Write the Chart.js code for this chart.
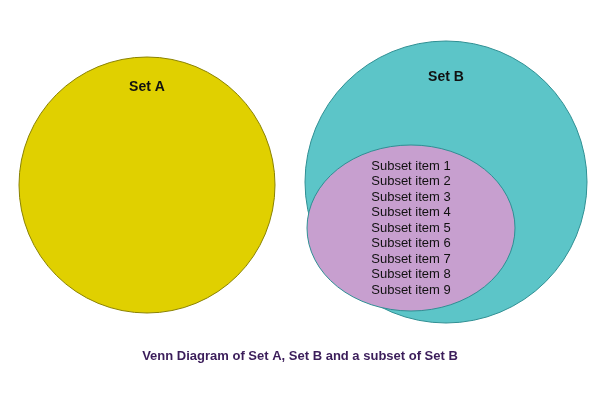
<!DOCTYPE html>
<html>
<head>
<meta charset="utf-8">
<script src="https://cdn.jsdelivr.net/npm/chart.js@4/dist/chart.umd.min.js"></script>
<style>
  html, body { margin: 0; padding: 0; background: #fff; }
  #wrap { width: 600px; height: 406px; }
</style>
</head>
<body>
<div id="wrap"><canvas id="venn"></canvas></div>
<script>
// Neutral labels; layout follows the reference
const setNames = ['Set A', 'Set B'];
const setX = [147, 446];
const setY = [185, 182];
const setR = [128, 141];
const setColors = ['#e0d000', '#5cc5c8'];
const setBorders = ['#8a8200', '#2f8f93'];
const setLabelY = [87, 77];

const subsetX = 411;
const subsetY = 228;
const subsetRx = 104;
const subsetRy = 83;
const subsetLines = [
  'Subset item 1', 'Subset item 2', 'Subset item 3',
  'Subset item 4', 'Subset item 5', 'Subset item 6',
  'Subset item 7', 'Subset item 8', 'Subset item 9'
];
const caption = 'Venn Diagram of Set A, Set B and a subset of Set B';

const vennPlugin = {
  id: 'venn',
  afterDatasetsDraw(chart) {
    const ctx = chart.ctx;
    const xs = chart.scales.x, ys = chart.scales.y;
    const px = v => xs.getPixelForValue(v);
    const py = v => ys.getPixelForValue(v);
    const len = v => Math.abs(px(v) - px(0));
    ctx.save();
    setX.forEach((x, i) => {
      ctx.beginPath();
      ctx.arc(px(x), py(setY[i]), len(setR[i]), 0, Math.PI * 2);
      ctx.fillStyle = setColors[i];
      ctx.fill();
      ctx.strokeStyle = setBorders[i];
      ctx.lineWidth = 1;
      ctx.stroke();
    });
    ctx.beginPath();
    ctx.ellipse(px(subsetX), py(subsetY), len(subsetRx), Math.abs(py(subsetRy) - py(0)), 0, 0, Math.PI * 2);
    ctx.fillStyle = '#c79fcf';
    ctx.fill();
    ctx.strokeStyle = '#2f8f93';
    ctx.stroke();

    ctx.textAlign = 'center';
    ctx.textBaseline = 'middle';
    ctx.fillStyle = '#111';
    ctx.font = 'bold 14px "Liberation Sans", Arial, sans-serif';
    setNames.forEach((n, i) => ctx.fillText(n, px(setX[i]), py(setLabelY[i])));

    ctx.font = '13px "Liberation Sans", Arial, sans-serif';
    const lh = 15.5;
    const top = subsetY - (subsetLines.length - 1) * lh / 2;
    subsetLines.forEach((t, i) => ctx.fillText(t, px(subsetX), py(top + i * lh)));

    ctx.fillStyle = '#3b1d5a';
    ctx.font = 'bold 13px "Liberation Sans", Arial, sans-serif';
    ctx.fillText(caption, px(300), py(356));
    ctx.restore();
  }
};

new Chart(document.getElementById('venn'), {
  type: 'scatter',
  data: {
    datasets: [{
      data: setX.map((x, i) => ({ x: x, y: setY[i] })),
      pointRadius: 0
    }]
  },
  options: {
    responsive: true,
    maintainAspectRatio: false,
    animation: false,
    layout: { padding: 0 },
    plugins: { legend: { display: false }, tooltip: { enabled: false } },
    scales: {
      x: { type: 'linear', min: 0, max: 600, display: false },
      y: { type: 'linear', min: 0, max: 406, reverse: true, display: false }
    }
  },
  plugins: [vennPlugin]
});
</script>
</body>
</html>
